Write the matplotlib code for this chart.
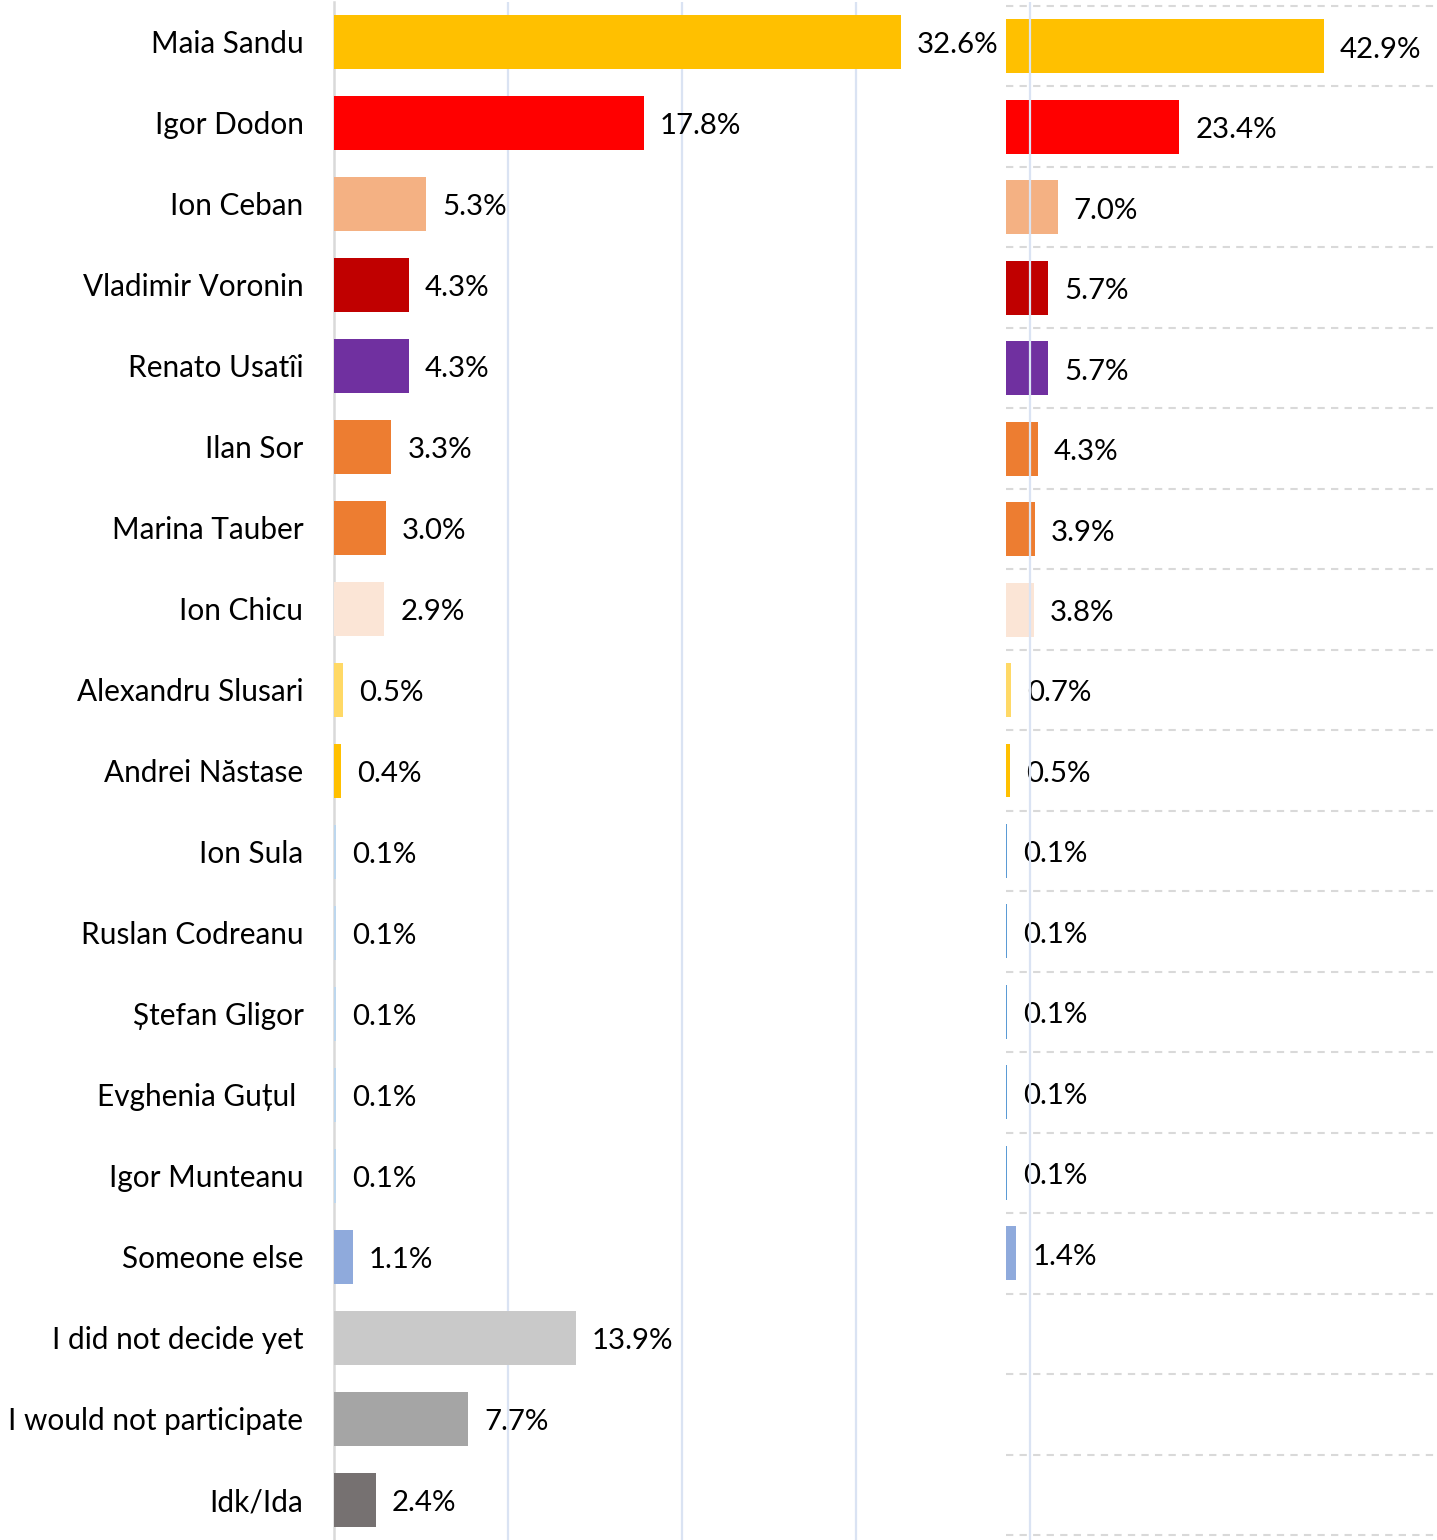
import matplotlib
matplotlib.use("Agg")
import matplotlib.pyplot as plt

plt.rcParams['font.family'] = ['Lato', 'DejaVu Sans']

categories = ["Maia Sandu", "Igor Dodon", "Ion Ceban", "Vladimir Voronin", "Renato Usatîi",
              "Ilan Sor", "Marina Tauber", "Ion Chicu", "Alexandru Slusari", "Andrei Năstase",
              "Ion Sula", "Ruslan Codreanu", "Ștefan Gligor", "Evghenia Guțul ", "Igor Munteanu",
              "Someone else", "I did not decide yet", "I would not participate", "Idk/Ida"]
left_values = [32.6, 17.8, 5.3, 4.3, 4.3, 3.3, 3.0, 2.9, 0.5, 0.4,
               0.1, 0.1, 0.1, 0.1, 0.1, 1.1, 13.9, 7.7, 2.4]
right_values = [42.9, 23.4, 7.0, 5.7, 5.7, 4.3, 3.9, 3.8, 0.7, 0.5,
                0.1, 0.1, 0.1, 0.1, 0.1, 1.4]
left_colors = ["#FFC000", "#FF0000", "#F4B183", "#C00000", "#7030A0",
               "#ED7D31", "#ED7D31", "#FBE5D6", "#FFD966", "#FFC000",
               "#BDD7EE", "#BDD7EE", "#BDD7EE", "#BDD7EE", "#BDD7EE",
               "#8FAADC", "#C9C9C9", "#A5A5A5", "#767171"]
right_colors = ["#FFC000", "#FF0000", "#F4B183", "#C00000", "#7030A0",
                "#ED7D31", "#ED7D31", "#FBE5D6", "#FFD966", "#FFC000",
                "#5B9BD5", "#5B9BD5", "#5B9BD5", "#5B9BD5", "#5B9BD5",
                "#8FAADC"]

W, H = 1437, 1540
fig = plt.figure(figsize=(W / 100, H / 100), dpi=100)

# right panel (beneath)
axr = fig.add_axes([1006 / W, 5 / H, 431 / W, 1529 / H], zorder=1)
# left panel (on top, transparent)
axl = fig.add_axes([334 / W, 0 / H, (W - 334) / W, 1538.5 / H], zorder=2)
axl.patch.set_visible(False)

n = len(categories)
ypos = list(range(n))
fs_cat = 21.4
fs_val = 21.2

# left panel
axl.barh(ypos, left_values, height=0.667, color=left_colors, zorder=3)
axl.set_xlim(0, (W - 334) / 17.4)
axl.set_ylim(n - 0.5, -0.5)
axl.set_xticks([10, 20, 30, 40])
axl.set_xticklabels([])
axl.tick_params(axis='x', length=0)
axl.grid(axis='x', color='#DAE3F3', linewidth=1.6, zorder=0)
axl.set_axisbelow(True)
axl.set_yticks(ypos)
axl.set_yticklabels(categories, fontsize=fs_cat, color='#000000')
axl.tick_params(axis='y', length=0, pad=22)
for s in ['top', 'right', 'bottom']:
    axl.spines[s].set_visible(False)
axl.spines['left'].set_color('#D9D9D9')
axl.spines['left'].set_linewidth(1.8)
for i, v in enumerate(left_values):
    axl.annotate(f"{v:.1f}%", xy=(v, i), xytext=(11.5, -2.5), textcoords='offset points',
                 va='center', ha='left', fontsize=fs_val, color='#000000', zorder=4)

# right panel
nr = len(right_values)
axr.barh(list(range(nr)), right_values, height=0.67, color=right_colors, zorder=3)
axr.set_xlim(0, 431 / 7.41)
axr.set_ylim(n - 0.5, -0.5)
axr.set_xticks([])
axr.set_yticks([])
for s in axr.spines.values():
    s.set_visible(False)
for k in range(n + 1):
    axr.axhline(k - 0.5, color='#D9D9D9', linewidth=1.5, linestyle=(0, (3.5, 3)),
                zorder=1, clip_on=False)
for i, v in enumerate(right_values):
    axr.annotate(f"{v:.1f}%", xy=(v, i), xytext=(11.5, -2.5), textcoords='offset points',
                 va='center', ha='left', fontsize=fs_val, color='#000000', zorder=4)

fig.savefig("out.png", dpi=100, facecolor='white')
